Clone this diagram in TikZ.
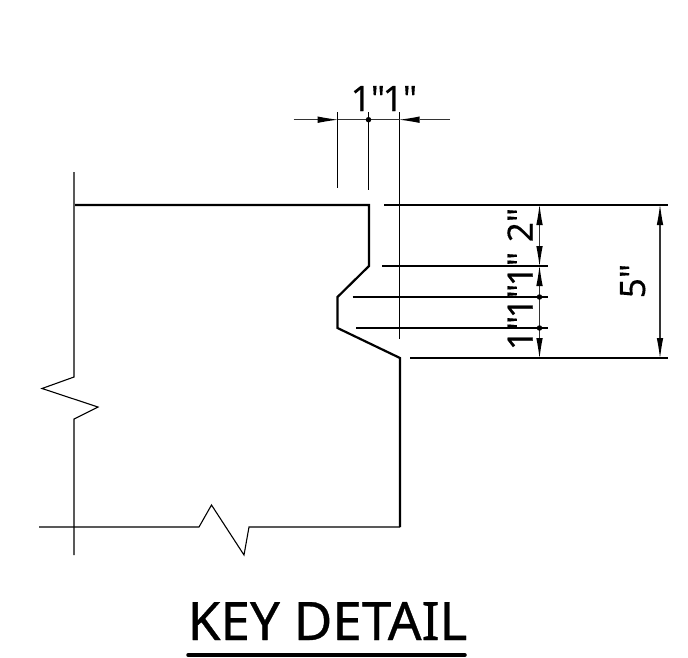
\documentclass[tikz,border=0pt]{standalone}
\usepackage{fontspec}
\newfontfamily\dimfont[FakeBold=0.3]{Noto Sans}
\newfontfamily\titlefont[FakeBold=0.6]{Noto Sans}
\usepackage{tikz}
\usetikzlibrary{positioning,arrows.meta}

\begin{document}
\begin{tikzpicture}[
	x=1pt, y=-1pt,
	tip/.tip={Latex[length=20pt,width=6.5pt,fill=black,line width=0pt]},
	thick line/.style={draw=black, line width=2.2pt, line join=miter},
	thin line/.style={draw=black, line width=1.1pt},
	dim line/.style={draw=black!80, line width=1.3pt},
	dim both/.style={dim line, tip-tip},
	dimtext/.style={inner sep=0pt, font=\dimfont\fontsize{35}{35}\selectfont, text=black},
	dimdot/.style={circle, fill=black, inner sep=0pt, minimum size=5.5pt}
	]
	\useasboundingbox (0,0) rectangle (688,657);
	% key profile
	\coordinate (p1) at (75,205);
	\coordinate (p2) at (369,205);
	\coordinate (p3) at (369,266);
	\coordinate (p4) at (337.5,297);
	\coordinate (p5) at (337.5,328);
	\coordinate (p6) at (400,358);
	\coordinate (p7) at (400,527);
	\draw[thick line] (p1) -- (p2) -- (p3) -- (p4) -- (p5) -- (p6) -- (p7);
	% break lines
	\coordinate (l1) at (74,172);
	\coordinate (l2) at (74,377);
	\coordinate (l3) at (42,388.5);
	\coordinate (l4) at (98,407);
	\coordinate (l5) at (74,419);
	\coordinate (l6) at (74,555);
	\draw[thin line] (l1) -- (l2) -- (l3) -- (l4) -- (l5) -- (l6);
	\coordinate (b1) at (39,527);
	\coordinate (b2) at (199,527);
	\coordinate (b3) at (211.5,505);
	\coordinate (b4) at (244,555);
	\coordinate (b5) at (249,527);
	\draw[thin line] (b1) -- (b2) -- (b3) -- (b4) -- (b5) -- (p7);
	% top dimension
	\coordinate (t1) at (337.7,112);
	\coordinate (t2) at (368.5,112);
	\coordinate (t3) at (399.5,112);
	\coordinate (t1e) at (337.7,188);
	\coordinate (t2e) at (368.5,190);
	\coordinate (t3e) at (399.5,339);
	\draw[thin line] (t1) -- (t1e);
	\draw[thin line] (t2) -- (t2e);
	\draw[thin line] (t3) -- (t3e);
	\coordinate (ta) at (293.5,119.7);
	\coordinate (tb) at (337.7,119.7);
	\coordinate (tc) at (399.5,119.7);
	\coordinate (td) at (450,119.7);
	\draw[dim line, -tip] (ta) -- (tb);
	\draw[dim line] (tb) -- (tc);
	\draw[dim line, -tip] (td) -- (tc);
	\node (tdot) [dimdot] at (368.5,119.7) {};
	\node (top1) [dimtext, anchor=base] at (368,111) {1"};
	\node (top2) [dimtext, anchor=base] at (400,111) {1"};
	% right extension lines
	\coordinate (e1) at (384,205);
	\coordinate (e1b) at (668,205);
	\coordinate (e2) at (382,266);
	\coordinate (e2b) at (548,266);
	\coordinate (e3) at (352.5,297);
	\coordinate (e3b) at (548,297);
	\coordinate (e4) at (356,328);
	\coordinate (e4b) at (548,328);
	\coordinate (e5) at (410,358);
	\coordinate (e5b) at (668,358);
	\draw[thin line] (e1) -- (e1b);
	\draw[thin line] (e2) -- (e2b);
	\draw[thin line] (e3) -- (e3b);
	\draw[thin line] (e4) -- (e4b);
	\draw[thin line] (e5) -- (e5b);
	% right dimensions
	\coordinate (d1) at (539.5,205);
	\coordinate (d2) at (539.5,266);
	\coordinate (d3) at (539.5,358);
	\coordinate (f1) at (660,205);
	\coordinate (f2) at (660,358);
	\draw[dim both] (d1) -- (d2);
	\draw[dim both] (d2) -- (d3);
	\draw[dim both] (f1) -- (f2);
	\node (dot3) [dimdot] at (539.5,297) {};
	\node (dot4) [dimdot] at (539.5,328) {};
	\node (two) [dimtext, rotate=90, anchor=base] at (532.7,225) {2"};
	\node (onec) [dimtext, rotate=90, anchor=base] at (532.7,333) {1"};
	\node (oneb) [dimtext, rotate=90, anchor=base] at (532.7,301) {1"};
	\node (onea) [dimtext, rotate=90, anchor=base] at (532.7,269) {1"};
	\node (five) [dimtext, rotate=90, anchor=base] at (645,281) {5"};
	% title
	\node (title) [inner sep=0pt, anchor=base, font=\titlefont\fontsize{53}{53}\selectfont] at (327.5,640) {KEY DETAIL};
	\coordinate (u1) at (188,655);
	\coordinate (u2) at (465,655);
	\draw[line width=3.5pt, line cap=round] (u1) -- (u2);
\end{tikzpicture}
\end{document}
